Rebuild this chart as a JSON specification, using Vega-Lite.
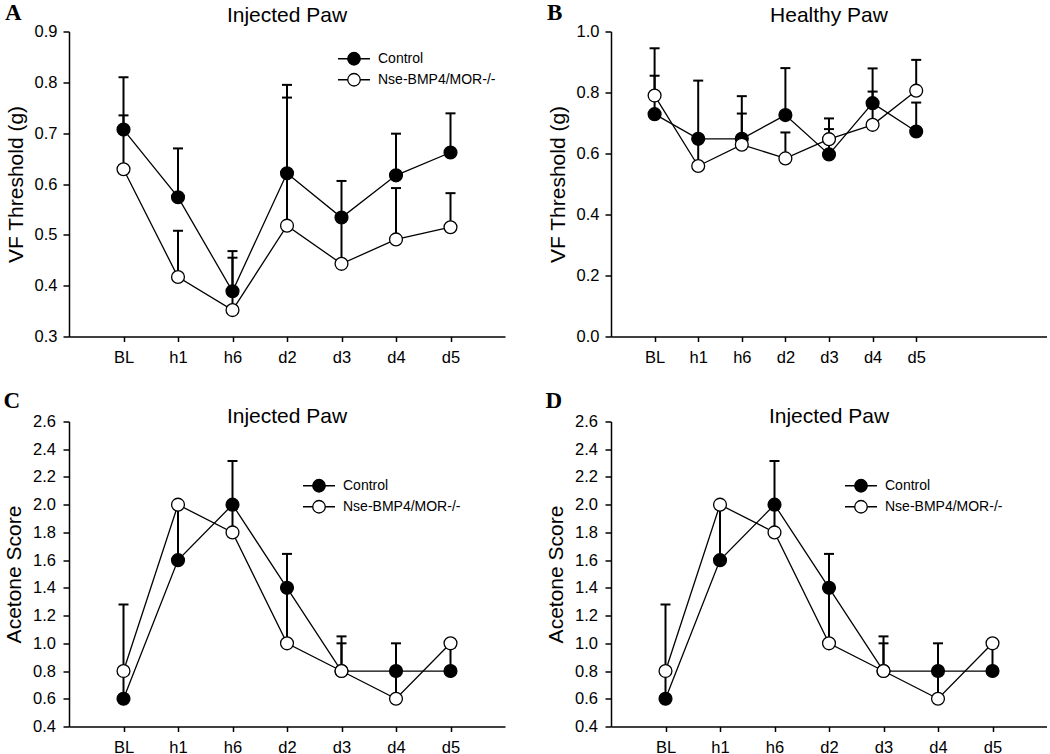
{
  "$schema": "https://vega.github.io/schema/vega-lite/v6.json",
  "background": "white",
  "padding": {"left": 3, "top": 1.5, "right": 0, "bottom": 0},
  "config": {
    "view": {"stroke": null},
    "axis": {"domainColor": "black", "domainWidth": 1.5, "tickColor": "black", "tickWidth": 1.5, "tickSize": 5, "labelColor": "black", "labelFont": "Liberation Sans", "labelFontSize": 16.5, "titleFont": "Liberation Sans", "titleFontSize": 21, "titleFontWeight": "normal", "titleColor": "black", "grid": false, "labelPadding": 6},
    "axisY": {"tickSize": 6, "titlePadding": 8},
    "axisX": {"labelPadding": 8, "labelFlush": false},
    "title": {"font": "Liberation Sans", "fontSize": 21, "fontWeight": "normal", "color": "black", "frame": "group", "anchor": "middle", "baseline": "alphabetic"}
  },
  "datasets": {
    "A": [
      {"t": "BL", "i": 1, "g": "Control", "v": 0.707, "hi": 0.81},
      {"t": "h1", "i": 2, "g": "Control", "v": 0.574, "hi": 0.67},
      {"t": "h6", "i": 3, "g": "Control", "v": 0.389, "hi": 0.468},
      {"t": "d2", "i": 4, "g": "Control", "v": 0.621, "hi": 0.795},
      {"t": "d3", "i": 5, "g": "Control", "v": 0.534, "hi": 0.606},
      {"t": "d4", "i": 6, "g": "Control", "v": 0.617, "hi": 0.699},
      {"t": "d5", "i": 7, "g": "Control", "v": 0.662, "hi": 0.739},
      {"t": "BL", "i": 1, "g": "Nse-BMP4/MOR-/-", "v": 0.629, "hi": 0.735},
      {"t": "h1", "i": 2, "g": "Nse-BMP4/MOR-/-", "v": 0.417, "hi": 0.508},
      {"t": "h6", "i": 3, "g": "Nse-BMP4/MOR-/-", "v": 0.352, "hi": 0.455},
      {"t": "d2", "i": 4, "g": "Nse-BMP4/MOR-/-", "v": 0.518, "hi": 0.77},
      {"t": "d3", "i": 5, "g": "Nse-BMP4/MOR-/-", "v": 0.443, "hi": 0.53},
      {"t": "d4", "i": 6, "g": "Nse-BMP4/MOR-/-", "v": 0.491, "hi": 0.592},
      {"t": "d5", "i": 7, "g": "Nse-BMP4/MOR-/-", "v": 0.515, "hi": 0.582}
    ],
    "B": [
      {"t": "BL", "i": 1, "g": "Control", "v": 0.729, "hi": 0.855},
      {"t": "h1", "i": 2, "g": "Control", "v": 0.648, "hi": 0.839},
      {"t": "h6", "i": 3, "g": "Control", "v": 0.648, "hi": 0.788},
      {"t": "d2", "i": 4, "g": "Control", "v": 0.726, "hi": 0.88},
      {"t": "d3", "i": 5, "g": "Control", "v": 0.597, "hi": 0.68},
      {"t": "d4", "i": 6, "g": "Control", "v": 0.765, "hi": 0.879},
      {"t": "d5", "i": 7, "g": "Control", "v": 0.672, "hi": 0.767},
      {"t": "BL", "i": 1, "g": "Nse-BMP4/MOR-/-", "v": 0.79, "hi": 0.945},
      {"t": "h1", "i": 2, "g": "Nse-BMP4/MOR-/-", "v": 0.559, "hi": 0.64},
      {"t": "h6", "i": 3, "g": "Nse-BMP4/MOR-/-", "v": 0.629, "hi": 0.731},
      {"t": "d2", "i": 4, "g": "Nse-BMP4/MOR-/-", "v": 0.584, "hi": 0.669},
      {"t": "d3", "i": 5, "g": "Nse-BMP4/MOR-/-", "v": 0.647, "hi": 0.715},
      {"t": "d4", "i": 6, "g": "Nse-BMP4/MOR-/-", "v": 0.694, "hi": 0.803},
      {"t": "d5", "i": 7, "g": "Nse-BMP4/MOR-/-", "v": 0.806, "hi": 0.907}
    ],
    "C": [
      {"t": "BL", "i": 1, "g": "Control", "v": 0.6, "hi": 1.28},
      {"t": "h1", "i": 2, "g": "Control", "v": 1.6, "hi": 1.97},
      {"t": "h6", "i": 3, "g": "Control", "v": 2.0, "hi": 2.315},
      {"t": "d2", "i": 4, "g": "Control", "v": 1.4, "hi": 1.645},
      {"t": "d3", "i": 5, "g": "Control", "v": 0.8, "hi": 1.05},
      {"t": "d4", "i": 6, "g": "Control", "v": 0.8, "hi": 1.0},
      {"t": "d5", "i": 7, "g": "Control", "v": 0.8, "hi": 0.97},
      {"t": "BL", "i": 1, "g": "Nse-BMP4/MOR-/-", "v": 0.8, "hi": 0.8},
      {"t": "h1", "i": 2, "g": "Nse-BMP4/MOR-/-", "v": 2.0, "hi": 2.0},
      {"t": "h6", "i": 3, "g": "Nse-BMP4/MOR-/-", "v": 1.8, "hi": 1.97},
      {"t": "d2", "i": 4, "g": "Nse-BMP4/MOR-/-", "v": 1.0, "hi": 1.37},
      {"t": "d3", "i": 5, "g": "Nse-BMP4/MOR-/-", "v": 0.8, "hi": 1.0},
      {"t": "d4", "i": 6, "g": "Nse-BMP4/MOR-/-", "v": 0.6, "hi": 0.77},
      {"t": "d5", "i": 7, "g": "Nse-BMP4/MOR-/-", "v": 1.0, "hi": 1.0}
    ]
  },
  "resolve": {"scale": {"fill": "independent"}, "legend": {"fill": "independent"}},
  "columns": 1,
  "align": "none",
  "spacing": 23,
  "concat": [
    {
      "resolve": {"scale": {"fill": "independent"}, "legend": {"fill": "independent"}},
      "hconcat": [
        {
          "title": {"text": "A", "font": "Liberation Serif", "fontWeight": "bold", "fontSize": 23, "anchor": "start", "frame": "bounds", "offset": -19.6},
          "resolve": {"scale": {"fill": "independent"}, "legend": {"fill": "independent"}},
          "vconcat": [
            {
              "width": 436, "height": 305,
              "title": {"text": "Injected Paw", "offset": -2.4},
              "data": {"name": "A"},
              "encoding": {
                "x": {"field": "i", "type": "quantitative", "scale": {"domain": [0, 8], "nice": false, "zero": false}, "axis": {"title": null, "values": [1, 2, 3, 4, 5, 6, 7], "labelExpr": "['','BL','h1','h6','d2','d3','d4','d5'][datum.value]"}},
                "y": {"field": "v", "type": "quantitative", "title": "VF Threshold (g)", "scale": {"domain": [0.3, 0.9], "nice": false, "zero": false}, "axis": {"title": "VF Threshold (g)", "values": [0.3, 0.4, 0.5, 0.6, 0.7, 0.8, 0.9], "format": ".1f"}}
              },
              "layer": [
                {"mark": {"type": "rule", "strokeWidth": 2, "color": "black"}, "encoding": {"y2": {"field": "hi"}}},
                {"mark": {"type": "tick", "orient": "horizontal", "size": 10, "thickness": 2, "color": "black", "opacity": 1}, "encoding": {"y": {"field": "hi", "type": "quantitative", "title": "VF Threshold (g)"}}},
                {"mark": {"type": "line", "strokeWidth": 1.3, "color": "black"}, "encoding": {"detail": {"field": "g"}}},
                {"mark": {"type": "point", "filled": true, "shape": "circle", "size": 165, "stroke": "black", "strokeWidth": 1.3, "opacity": 1},
                 "encoding": {"fill": {"field": "g", "type": "nominal", "scale": {"domain": ["Control", "Nse-BMP4/MOR-/-"], "range": ["black", "white"]},
                   "legend": {"title": null, "orient": "none", "legendX": 268, "legendY": 17, "symbolType": "M-1,0L-0.39,0M0.39,0L1,0M0.39,0A0.39,0.39,0,1,1,-0.39,0A0.39,0.39,0,1,1,0.39,0Z", "symbolSize": 1024, "symbolStrokeColor": "black", "symbolStrokeWidth": 1.3, "labelFont": "Liberation Sans", "labelFontSize": 14, "labelColor": "black", "labelOffset": 7, "clipHeight": 20.5, "rowPadding": 0, "padding": 0}}}}
              ]
            }
          ]
        },
        {
          "title": {"text": "B", "font": "Liberation Serif", "fontWeight": "bold", "fontSize": 23, "anchor": "start", "frame": "bounds", "offset": -19.6},
          "resolve": {"scale": {"fill": "independent"}, "legend": {"fill": "independent"}},
          "vconcat": [
            {
              "width": 436, "height": 305,
              "title": {"text": "Healthy Paw", "offset": -2.4},
              "data": {"name": "B"},
              "encoding": {
                "x": {"field": "i", "type": "quantitative", "scale": {"domain": [0, 10], "nice": false, "zero": false}, "axis": {"title": null, "values": [1, 2, 3, 4, 5, 6, 7], "labelExpr": "['','BL','h1','h6','d2','d3','d4','d5'][datum.value]"}},
                "y": {"field": "v", "type": "quantitative", "title": "VF Threshold (g)", "scale": {"domain": [0, 1], "nice": false, "zero": false}, "axis": {"title": "VF Threshold (g)", "values": [0, 0.2, 0.4, 0.6, 0.8, 1.0], "format": ".1f"}}
              },
              "layer": [
                {"mark": {"type": "rule", "strokeWidth": 2, "color": "black"}, "encoding": {"y2": {"field": "hi"}}},
                {"mark": {"type": "tick", "orient": "horizontal", "size": 10, "thickness": 2, "color": "black", "opacity": 1}, "encoding": {"y": {"field": "hi", "type": "quantitative", "title": "VF Threshold (g)"}}},
                {"mark": {"type": "line", "strokeWidth": 1.3, "color": "black"}, "encoding": {"detail": {"field": "g"}}},
                {"mark": {"type": "point", "filled": true, "shape": "circle", "size": 165, "stroke": "black", "strokeWidth": 1.3, "opacity": 1},
                 "encoding": {"fill": {"field": "g", "type": "nominal", "scale": {"domain": ["Control", "Nse-BMP4/MOR-/-"], "range": ["black", "white"]}, "legend": null}}}
              ]
            }
          ]
        }
      ],
      "spacing": 42
    },
    {
      "resolve": {"scale": {"fill": "independent"}, "legend": {"fill": "independent"}},
      "hconcat": [
        {
          "title": {"text": "C", "font": "Liberation Serif", "fontWeight": "bold", "fontSize": 23, "anchor": "start", "frame": "bounds", "offset": -6.6},
          "resolve": {"scale": {"fill": "independent"}, "legend": {"fill": "independent"}},
          "vconcat": [
            {
              "width": 436, "height": 305,
              "title": {"text": "Injected Paw", "offset": -13.4},
              "data": {"name": "C"},
              "encoding": {
                "x": {"field": "i", "type": "quantitative", "scale": {"domain": [0, 8], "nice": false, "zero": false}, "axis": {"title": null, "values": [1, 2, 3, 4, 5, 6, 7], "labelExpr": "['','BL','h1','h6','d2','d3','d4','d5'][datum.value]"}},
                "y": {"field": "v", "type": "quantitative", "title": "Acetone Score", "scale": {"domain": [0.4, 2.6], "nice": false, "zero": false}, "axis": {"title": "Acetone Score", "labelPadding": 7.5, "values": [0.4, 0.6, 0.8, 1.0, 1.2, 1.4, 1.6, 1.8, 2.0, 2.2, 2.4, 2.6], "format": ".1f"}}
              },
              "layer": [
                {"mark": {"type": "rule", "strokeWidth": 2, "color": "black"}, "encoding": {"y2": {"field": "hi"}}},
                {"mark": {"type": "tick", "orient": "horizontal", "size": 10, "thickness": 2, "color": "black", "opacity": 1}, "encoding": {"y": {"field": "hi", "type": "quantitative", "title": "Acetone Score"}}},
                {"mark": {"type": "line", "strokeWidth": 1.3, "color": "black"}, "encoding": {"detail": {"field": "g"}}},
                {"mark": {"type": "point", "filled": true, "shape": "circle", "size": 165, "stroke": "black", "strokeWidth": 1.3, "opacity": 1},
                 "encoding": {"fill": {"field": "g", "type": "nominal", "scale": {"domain": ["Control", "Nse-BMP4/MOR-/-"], "range": ["black", "white"]},
                   "legend": {"title": null, "orient": "none", "legendX": 233, "legendY": 54, "symbolType": "M-1,0L-0.39,0M0.39,0L1,0M0.39,0A0.39,0.39,0,1,1,-0.39,0A0.39,0.39,0,1,1,0.39,0Z", "symbolSize": 1024, "symbolStrokeColor": "black", "symbolStrokeWidth": 1.3, "labelFont": "Liberation Sans", "labelFontSize": 14, "labelColor": "black", "labelOffset": 7, "clipHeight": 20.5, "rowPadding": 0, "padding": 0}}}}
              ]
            }
          ]
        },
        {
          "title": {"text": "D", "font": "Liberation Serif", "fontWeight": "bold", "fontSize": 23, "anchor": "start", "frame": "bounds", "offset": -6.6},
          "resolve": {"scale": {"fill": "independent"}, "legend": {"fill": "independent"}},
          "vconcat": [
            {
              "width": 436, "height": 305,
              "title": {"text": "Injected Paw", "offset": -13.4},
              "data": {"name": "C"},
              "encoding": {
                "x": {"field": "i", "type": "quantitative", "scale": {"domain": [0, 8], "nice": false, "zero": false}, "axis": {"title": null, "values": [1, 2, 3, 4, 5, 6, 7], "labelExpr": "['','BL','h1','h6','d2','d3','d4','d5'][datum.value]"}},
                "y": {"field": "v", "type": "quantitative", "title": "Acetone Score", "scale": {"domain": [0.4, 2.6], "nice": false, "zero": false}, "axis": {"title": "Acetone Score", "labelPadding": 7.5, "values": [0.4, 0.6, 0.8, 1.0, 1.2, 1.4, 1.6, 1.8, 2.0, 2.2, 2.4, 2.6], "format": ".1f"}}
              },
              "layer": [
                {"mark": {"type": "rule", "strokeWidth": 2, "color": "black"}, "encoding": {"y2": {"field": "hi"}}},
                {"mark": {"type": "tick", "orient": "horizontal", "size": 10, "thickness": 2, "color": "black", "opacity": 1}, "encoding": {"y": {"field": "hi", "type": "quantitative", "title": "Acetone Score"}}},
                {"mark": {"type": "line", "strokeWidth": 1.3, "color": "black"}, "encoding": {"detail": {"field": "g"}}},
                {"mark": {"type": "point", "filled": true, "shape": "circle", "size": 165, "stroke": "black", "strokeWidth": 1.3, "opacity": 1},
                 "encoding": {"fill": {"field": "g", "type": "nominal", "scale": {"domain": ["Control", "Nse-BMP4/MOR-/-"], "range": ["black", "white"]},
                   "legend": {"title": null, "orient": "none", "legendX": 233, "legendY": 54, "symbolType": "M-1,0L-0.39,0M0.39,0L1,0M0.39,0A0.39,0.39,0,1,1,-0.39,0A0.39,0.39,0,1,1,0.39,0Z", "symbolSize": 1024, "symbolStrokeColor": "black", "symbolStrokeWidth": 1.3, "labelFont": "Liberation Sans", "labelFontSize": 14, "labelColor": "black", "labelOffset": 7, "clipHeight": 20.5, "rowPadding": 0, "padding": 0}}}}
              ]
            }
          ]
        }
      ],
      "spacing": 40
    }
  ]
}
